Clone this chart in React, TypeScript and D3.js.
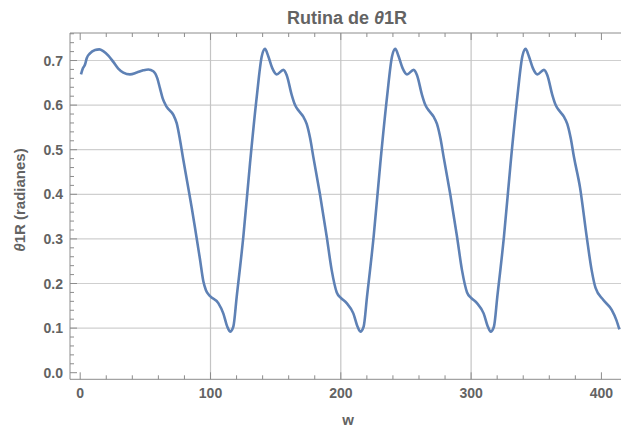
import React from "react";
import * as d3 from "d3";

const W = 621;
const H = 433;

// Data (w, θ1R in radians)
const wValues = [
  0.6, 2, 3.7, 5, 7.5, 11.4, 14.7, 17.7, 21.6, 25.4, 29.2, 33.1, 38.2, 43.4, 48.4, 52.3, 56.1, 59.2, 61.2, 63.3,
  66.4, 71.5, 74.1, 76.6, 79.1, 82, 85.6, 88.1, 91.9, 94.5, 96.5, 99.6, 106, 109.8, 112.9, 115, 117.5, 120.1, 125.2,
  130.3, 135.5, 139.3, 141.8, 144.4, 147.4, 150.8, 155.9, 158.5, 162.3, 164.9,
  168, 171.2, 173.8, 176.5, 178.9, 184, 189.2, 193, 196.9, 200, 204.5, 209.6, 212.9, 215, 217.5, 220.1, 225.2,
  230.3, 235.5, 239.3, 241.8, 244.4, 247.4, 250.8, 255.9, 258.5, 262.3, 264.9,
  268, 271.2, 273.8, 276.5, 278.9, 284, 289.2, 293, 296.9, 300, 304.5, 309.6, 312.9, 315, 317.5, 320.1, 325.2,
  330.3, 335.5, 339.3, 341.8, 344.4, 347.4, 350.8, 355.9, 358.5, 362.3, 364.9,
  368, 371.2, 373.8, 376.5, 378.9, 383.6, 388.7, 392.5, 395.5, 401.5, 407.9, 411.5, 413.8,
];
const thetaValues = [
  0.669, 0.682, 0.691, 0.705, 0.716, 0.7235, 0.725, 0.721, 0.711, 0.697, 0.682, 0.673, 0.669, 0.673, 0.678, 0.68, 0.676, 0.66, 0.638, 0.615,
  0.596, 0.578, 0.559, 0.522, 0.478, 0.43, 0.37, 0.325, 0.255, 0.205, 0.185, 0.172, 0.156, 0.133, 0.103, 0.092, 0.103, 0.17, 0.305,
  0.469, 0.619, 0.709, 0.726, 0.709, 0.683, 0.669, 0.679, 0.667, 0.623, 0.6,
  0.586, 0.574, 0.558, 0.525, 0.484, 0.4, 0.305, 0.23, 0.18, 0.168, 0.156, 0.133, 0.103, 0.092, 0.103, 0.17, 0.305,
  0.469, 0.619, 0.709, 0.726, 0.709, 0.683, 0.669, 0.679, 0.667, 0.623, 0.6,
  0.586, 0.574, 0.558, 0.525, 0.484, 0.4, 0.305, 0.23, 0.18, 0.168, 0.156, 0.133, 0.103, 0.092, 0.103, 0.17, 0.305,
  0.469, 0.619, 0.709, 0.726, 0.709, 0.683, 0.669, 0.679, 0.667, 0.623, 0.6,
  0.586, 0.574, 0.558, 0.525, 0.484, 0.415, 0.305, 0.23, 0.19, 0.163, 0.141, 0.118, 0.097,
];

const xMajorTicks = [0, 100, 200, 300, 400];
const xGridLines = [100, 200, 300];
const yMajorTicks = [0, 0.1, 0.2, 0.3, 0.4, 0.5, 0.6, 0.7];
const yGridLines = [0.1, 0.2, 0.3, 0.4, 0.5, 0.6, 0.7];

const titleText = "Rutina de ";
const xLabel = "w";

const plotLeft = 70;
const plotRight = 622;
const plotTop = 33;
const plotBottom = 379.3;

const x = d3.scaleLinear().domain([-7.83, 415.8]).range([plotLeft, plotRight]);
const y = d3.scaleLinear().domain([-0.0148, 0.7617]).range([plotBottom, plotTop]);

const xMinor = d3.range(0, 420, 20).filter((v) => v % 100 !== 0);
const yMinor = d3.range(0, 0.77, 0.02).filter((v) => Math.abs(v * 10 - Math.round(v * 10)) > 1e-6);

const TEXT = "#636363";
const FRAME = "#8c8c8c";
const GRID = "#cfcfcf";
const LINE = "#5E81B5";
const FONT = "'Liberation Sans', Arial, sans-serif";

export default function App() {
  const pts = wValues.map((w, i) => [w, thetaValues[i]] as [number, number]);
  const line = d3
    .line<[number, number]>()
    .x((d) => x(d[0]))
    .y((d) => y(d[1]))
    .curve(d3.curveMonotoneX);
  const fmt = d3.format(".1f");

  return (
    <svg
      width={W}
      height={H}
      style={{ position: "fixed", left: 0, top: 0, background: "#fff" }}
      fontFamily={FONT}
    >
      <rect x={0} y={0} width={W} height={H} fill="#fff" />
      <defs>
        <clipPath id="plotclip">
          <rect x={plotLeft} y={plotTop} width={plotRight - plotLeft} height={plotBottom - plotTop} />
        </clipPath>
      </defs>
      {/* grid */}
      {yGridLines.map((v) => (
        <line key={"gy" + v} x1={plotLeft} x2={plotRight} y1={y(v)} y2={y(v)} stroke={GRID} strokeWidth={1.2} />
      ))}
      {xGridLines.map((v) => (
        <line key={"gx" + v} x1={x(v)} x2={x(v)} y1={plotTop} y2={plotBottom} stroke="#c4c4c4" strokeWidth={1.2} />
      ))}
      {/* frame */}
      <line x1={plotLeft} x2={plotRight} y1={plotBottom} y2={plotBottom} stroke={FRAME} strokeWidth={1} />
      <line x1={plotLeft} x2={plotRight} y1={plotTop} y2={plotTop} stroke={FRAME} strokeWidth={1} />
      <line x1={plotLeft} x2={plotLeft} y1={plotTop} y2={plotBottom} stroke={FRAME} strokeWidth={1} />
      {/* x ticks */}
      {xMajorTicks.map((v) => (
        <g key={"xt" + v}>
          <line x1={x(v)} x2={x(v)} y1={plotBottom} y2={plotBottom - 7} stroke={FRAME} />
          <line x1={x(v)} x2={x(v)} y1={plotTop} y2={plotTop + 7} stroke={FRAME} />
          <text x={x(v)} y={plotBottom + 19} textAnchor="middle" fontSize={14} fontWeight="bold" fill={TEXT}>
            {v}
          </text>
        </g>
      ))}
      {xMinor.map((v) => (
        <g key={"xm" + v}>
          <line x1={x(v)} x2={x(v)} y1={plotBottom} y2={plotBottom - 4} stroke={FRAME} />
          <line x1={x(v)} x2={x(v)} y1={plotTop} y2={plotTop + 4} stroke={FRAME} />
        </g>
      ))}
      {/* y ticks */}
      {yMajorTicks.map((v) => (
        <g key={"yt" + v}>
          <line x1={plotLeft} x2={plotLeft + 7} y1={y(v)} y2={y(v)} stroke={FRAME} />
          <text x={plotLeft - 7} y={y(v) + 5} textAnchor="end" fontSize={14} fontWeight="bold" fill={TEXT}>
            {fmt(v)}
          </text>
        </g>
      ))}
      {yMinor.map((v) => (
        <line key={"ym" + v} x1={plotLeft} x2={plotLeft + 4} y1={y(v)} y2={y(v)} stroke={FRAME} />
      ))}
      {/* data line */}
      <path d={line(pts) || ""} fill="none" stroke={LINE} strokeWidth={2.6} strokeLinejoin="round" clipPath="url(#plotclip)" />
      {/* title */}
      <text x={347} y={24} textAnchor="middle" fontSize={18} fontWeight="bold" fill={TEXT}>
        {titleText}
        <tspan fontStyle="italic">θ</tspan>1R
      </text>
      {/* x label */}
      <text x={348} y={425} textAnchor="middle" fontSize={15} fontWeight="bold" fill={TEXT}>
        {xLabel}
      </text>
      {/* y label */}
      <text
        transform={`translate(25, 200) rotate(-90)`}
        textAnchor="middle"
        fontSize={15}
        fontWeight="bold"
        fill={TEXT}
      >
        <tspan fontStyle="italic">θ</tspan>1R (radianes)
      </text>
    </svg>
  );
}
